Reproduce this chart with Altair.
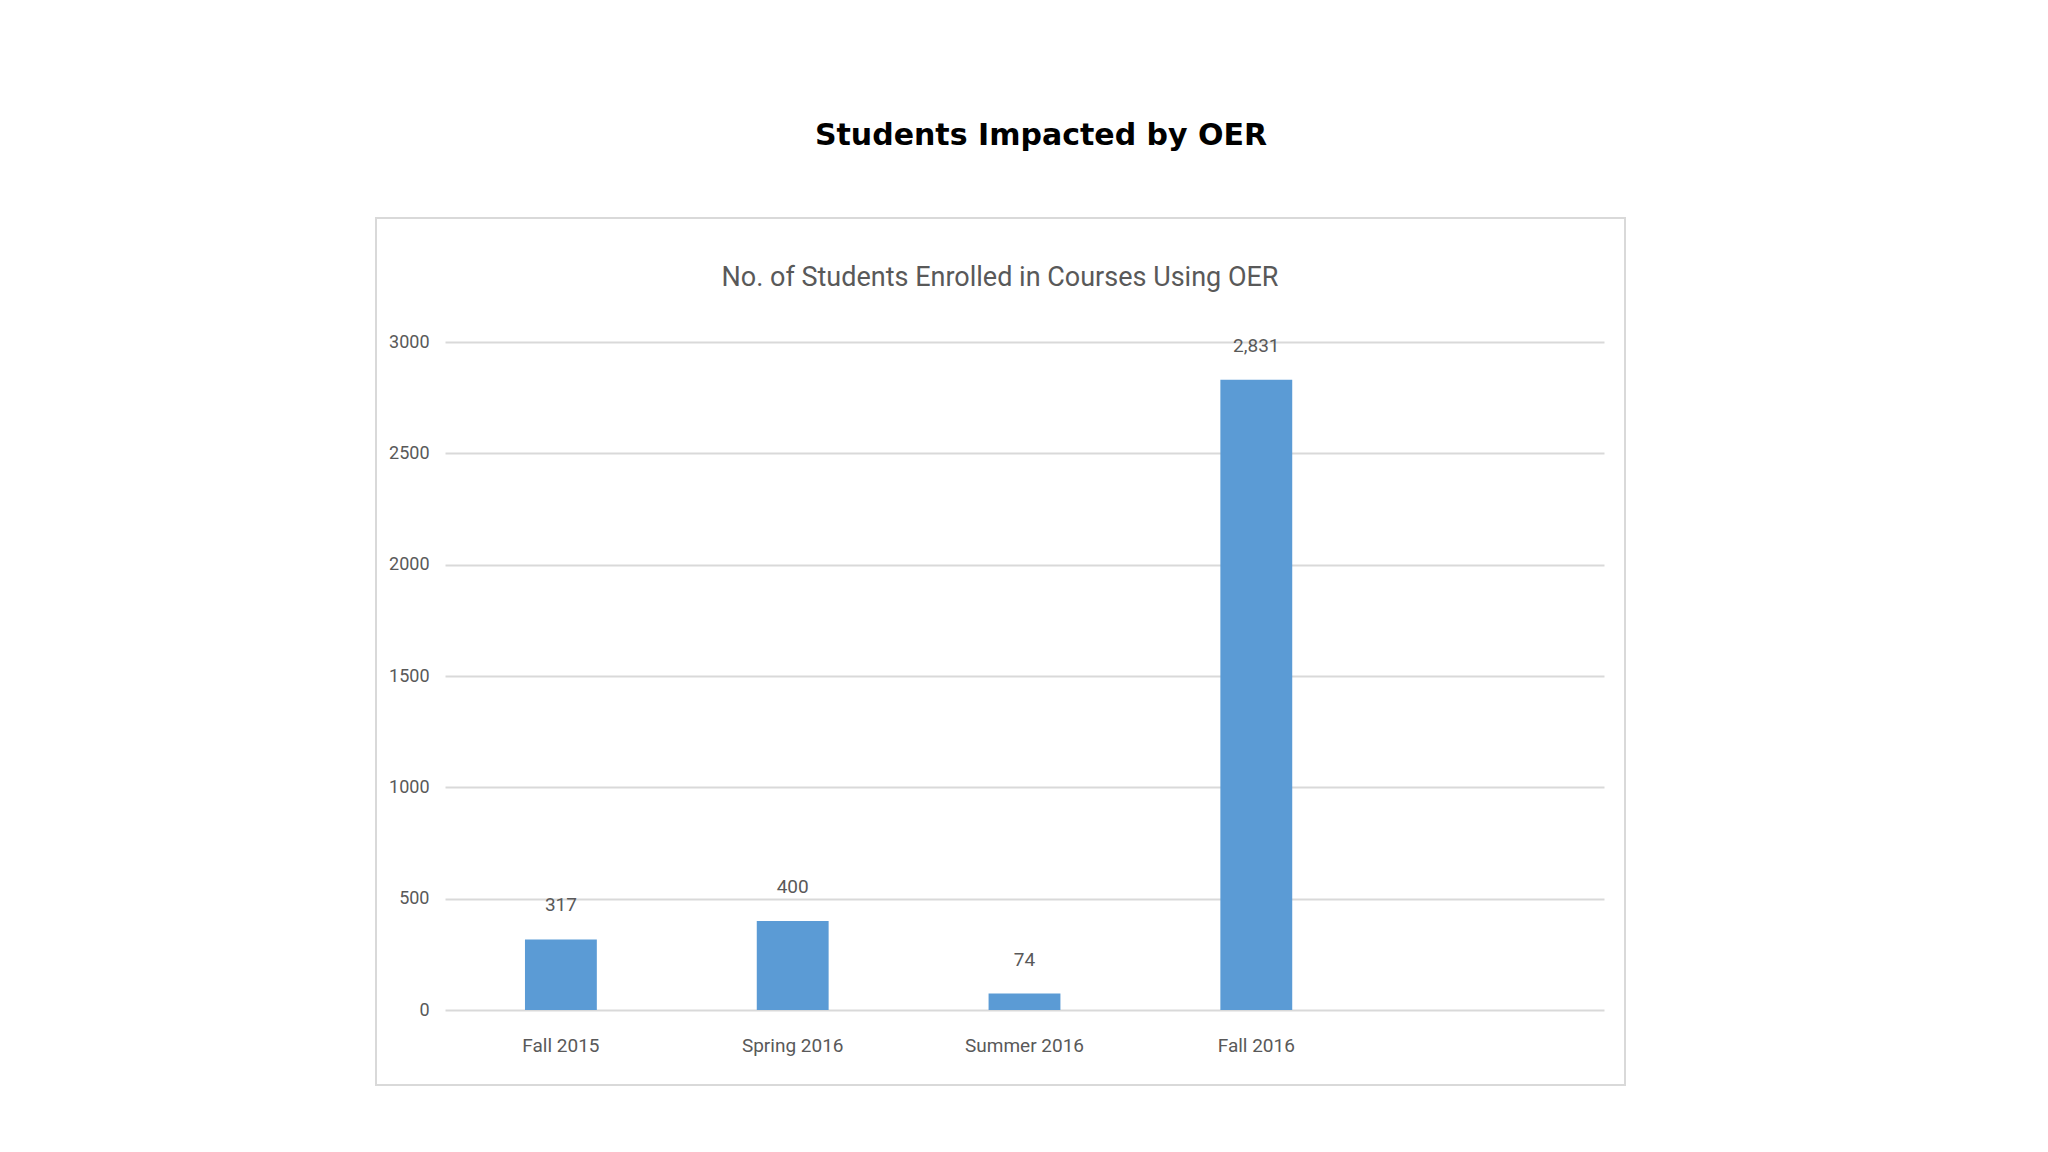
import altair as alt
import pandas as pd

terms = ["Fall 2015", "Spring 2016", "Summer 2016", "Fall 2016"]
students = [317, 400, 74, 2831]
value_labels = ["317", "400", "74", "2,831"]
y_ticks = [0, 500, 1000, 1500, 2000, 2500, 3000]

main_title = "Students Impacted by OER"
chart_title = "No. of Students Enrolled in Courses Using OER"

df = pd.DataFrame({"term": terms, "students": students, "label": value_labels})
domain = terms + [" "]

FONT = "Roboto"
GREY = "#595959"

x_enc = alt.X(
    "term:N",
    scale=alt.Scale(domain=domain, paddingInner=0.69, paddingOuter=0.345),
    sort=domain,
    axis=alt.Axis(title=None, labelAngle=0, domain=False, ticks=False, grid=False,
                  labelPadding=26, labelFontSize=19, labelFont=FONT, labelColor=GREY),
)
y_enc = alt.Y(
    "students:Q",
    scale=alt.Scale(domain=[0, 3000], nice=False),
    axis=alt.Axis(title=None, values=y_ticks, format="d", domain=False, ticks=False,
                  labelPadding=16, labelFontSize=18, labelFont=FONT, labelColor=GREY,
                  gridColor="#D9D9D9", gridWidth=2, labelBaseline="middle"),
)

bars = alt.Chart(df).mark_bar(color="#5B9BD5").encode(x=x_enc, y=y_enc)
labels = alt.Chart(df).mark_text(dy=-34, fontSize=19, font=FONT, color=GREY, baseline="middle").encode(
    x=alt.X("term:N", sort=domain), y="students:Q", text="label:N"
)

one = pd.DataFrame({"a": [0]})
frame = alt.Chart(one).mark_rect(fill=None, stroke="#D9D9D9", strokeWidth=2).encode(
    x=alt.value(-69), x2=alt.value(1180), y=alt.value(-124), y2=alt.value(743)
)
t1 = alt.Chart(one).mark_text(font="DejaVu Sans", fontWeight="bold", fontSize=30, color="#000000",
                              align="center", baseline="middle").encode(
    x=alt.value(596), y=alt.value(-206), text=alt.datum(main_title)
)
t2 = alt.Chart(one).mark_text(font=FONT, fontSize=27, color=GREY, align="center", baseline="middle").encode(
    x=alt.value(555), y=alt.value(-64), text=alt.datum(chart_title)
)

chart = alt.layer(frame, bars, labels, t1, t2).properties(
    width=1159, height=668, autosize="none",
    padding={"left": 437, "top": 334, "right": 420, "bottom": 120},
).configure(background="white").configure_view(stroke=None)

chart.save("out.html", embed_options={"renderer": "svg", "actions": False})
